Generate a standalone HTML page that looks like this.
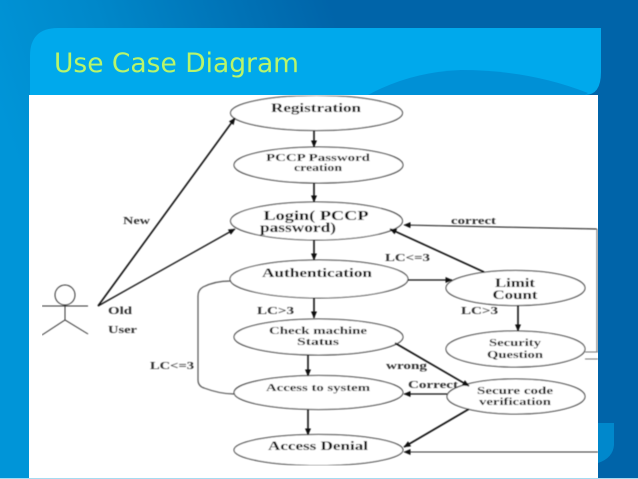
<!DOCTYPE html>
<html><head><meta charset="utf-8"><style>
html,body{margin:0;padding:0;width:638px;height:479px;overflow:hidden;background:#0070b4}
svg{display:block;position:absolute;left:0;top:0}
</style></head><body>
<svg width="638" height="479" viewBox="0 0 638 479" xmlns="http://www.w3.org/2000/svg">
<defs>
<linearGradient id="bg" gradientUnits="userSpaceOnUse" x1="0" y1="110" x2="330" y2="0">
<stop offset="0" stop-color="#0095d8"/><stop offset="0.35" stop-color="#0088ca"/><stop offset="1" stop-color="#0064a9"/>
</linearGradient>
<marker id="a" markerWidth="7" markerHeight="6" refX="6.5" refY="3" orient="auto" markerUnits="userSpaceOnUse"><path d="M0 0L7 3L0 6z" fill="#111"/></marker>
<filter id="b" x="0" y="0" width="1" height="1"><feGaussianBlur stdDeviation="0.4"/></filter>
</defs>
<rect width="638" height="479" fill="url(#bg)"/>
<path d="M30 95V56Q30 28 58 28H601V72Q601 95 585 95Z" fill="#00a9ec"/>
<path d="M368 95Q410 72 461 70Q530 70 588 93L585 95Z" fill="#0090d6"/>
<path d="M598 423H614V445Q613 458 598 463Z" fill="#0088cc"/>
<rect x="29" y="95" width="569" height="383" fill="#fff"/>
<rect x="0" y="478" width="638" height="1" fill="#a5dcf2"/>
<text x="54" y="72" font-family="'DejaVu Sans',sans-serif" font-size="27" fill="#b9f56a" textLength="245" lengthAdjust="spacingAndGlyphs">Use Case Diagram</text>
<g filter="url(#b)">
<g fill="#fff" stroke="#222" stroke-width="1">
<ellipse cx="316.5" cy="113" rx="86" ry="17.5"/>
<ellipse cx="318.5" cy="165" rx="84.5" ry="18"/>
<ellipse cx="316.5" cy="221" rx="86" ry="19"/>
<ellipse cx="319" cy="279" rx="89" ry="19"/>
<ellipse cx="318.5" cy="337" rx="84.5" ry="18"/>
<ellipse cx="318.5" cy="392.5" rx="84.5" ry="17"/>
<ellipse cx="318.5" cy="450" rx="84.5" ry="15.5"/>
<ellipse cx="515.5" cy="288" rx="69.5" ry="17.5"/>
<ellipse cx="515.5" cy="349" rx="69.5" ry="18"/>
<ellipse cx="516" cy="396.5" rx="69" ry="17.5"/>
</g>
<g fill="none" stroke="#111" stroke-width="1.6">
<path d="M314 131V147" marker-end="url(#a)"/>
<path d="M314 183V202" marker-end="url(#a)"/>
<path d="M314 240V260" marker-end="url(#a)"/>
<path d="M314 298V318" marker-end="url(#a)"/>
<path d="M308 355V376" marker-end="url(#a)"/>
<path d="M308 409V435" marker-end="url(#a)"/>
<path d="M98 306L235 118" marker-end="url(#a)"/>
<path d="M98 306L235 229" stroke-width="1.3" marker-end="url(#a)"/>
<path d="M408 280H452" stroke-width="1.3" marker-end="url(#a)"/>
<path d="M484 272L390 229" marker-end="url(#a)"/>
<path d="M518 305V331" marker-end="url(#a)"/>
<path d="M395 343L469 386" marker-end="url(#a)"/>
<path d="M447 394H404" stroke-width="1.3" marker-end="url(#a)"/>
<path d="M469 409L404 447" marker-end="url(#a)"/>
<path d="M598 452H404" stroke-width="1" stroke="#333" marker-end="url(#a)"/>
<path d="M597 229L404 225" stroke-width="1" marker-end="url(#a)"/>
<path d="M597 229V352" stroke="#777" stroke-width="1.2"/>
<path d="M585 352H598M585 359H598" stroke="#777" stroke-width="1"/>
<path d="M230 281Q215 281 203 287Q198 290 198 296V380Q198 386 204 388Q220 394 234 394" stroke="#555" stroke-width="1.2"/>
</g>
<g fill="none" stroke="#333" stroke-width="1">
<circle cx="65" cy="295" r="10"/>
<path d="M42 306H88M65 305V320M42 335L65 320L88 334"/>
</g>
<g font-family="'Liberation Serif',serif" fill="#111" text-anchor="middle" font-weight="bold" lengthAdjust="spacingAndGlyphs">
<text x="316" y="112" font-size="13" textLength="90" lengthAdjust="spacingAndGlyphs">Registration</text>
<text x="318" y="161" font-size="10" textLength="104" lengthAdjust="spacingAndGlyphs">PCCP Password</text>
<text x="318" y="171" font-size="10" textLength="48" lengthAdjust="spacingAndGlyphs">creation</text>
<text x="316" y="220" font-size="14" textLength="105" lengthAdjust="spacingAndGlyphs">Login( PCCP</text>
<text x="298" y="232" font-size="14" textLength="76" lengthAdjust="spacingAndGlyphs">password)</text>
<text x="317" y="277" font-size="13" textLength="110" lengthAdjust="spacingAndGlyphs">Authentication</text>
<text x="318" y="334" font-size="11" textLength="98" lengthAdjust="spacingAndGlyphs">Check machine</text>
<text x="318" y="345" font-size="11" textLength="42" lengthAdjust="spacingAndGlyphs">Status</text>
<text x="318" y="391" font-size="11" textLength="104" lengthAdjust="spacingAndGlyphs">Access to system</text>
<text x="318" y="450" font-size="13" textLength="100" lengthAdjust="spacingAndGlyphs">Access Denial</text>
<text x="515" y="287" font-size="13" textLength="40" lengthAdjust="spacingAndGlyphs">Limit</text>
<text x="515" y="299" font-size="13" textLength="45" lengthAdjust="spacingAndGlyphs">Count</text>
<text x="515" y="346" font-size="11" textLength="52" lengthAdjust="spacingAndGlyphs">Security</text>
<text x="515" y="358" font-size="11" textLength="56" lengthAdjust="spacingAndGlyphs">Question</text>
<text x="515" y="394" font-size="11" textLength="76" lengthAdjust="spacingAndGlyphs">Secure code</text>
<text x="515" y="405" font-size="11" textLength="72" lengthAdjust="spacingAndGlyphs">verification</text>
</g>
<g font-family="'Liberation Serif',serif" fill="#333" font-size="11" font-weight="bold">
<text x="123" y="224" textLength="27" lengthAdjust="spacingAndGlyphs">New</text>
<text x="108" y="314" textLength="24" lengthAdjust="spacingAndGlyphs">Old</text>
<text x="108" y="333" textLength="29" lengthAdjust="spacingAndGlyphs">User</text>
<text x="257" y="314" textLength="37" lengthAdjust="spacingAndGlyphs">LC&gt;3</text>
<text x="150" y="369" textLength="44" lengthAdjust="spacingAndGlyphs">LC&lt;=3</text>
<text x="385" y="261" textLength="45" lengthAdjust="spacingAndGlyphs">LC&lt;=3</text>
<text x="461" y="314" textLength="37" lengthAdjust="spacingAndGlyphs">LC&gt;3</text>
<text x="451" y="224" textLength="45" lengthAdjust="spacingAndGlyphs">correct</text>
<text x="386" y="369" textLength="41" lengthAdjust="spacingAndGlyphs">wrong</text>
<text x="408" y="388" textLength="50" lengthAdjust="spacingAndGlyphs">Correct</text>
</g>
</g>
</svg>
</body></html>
